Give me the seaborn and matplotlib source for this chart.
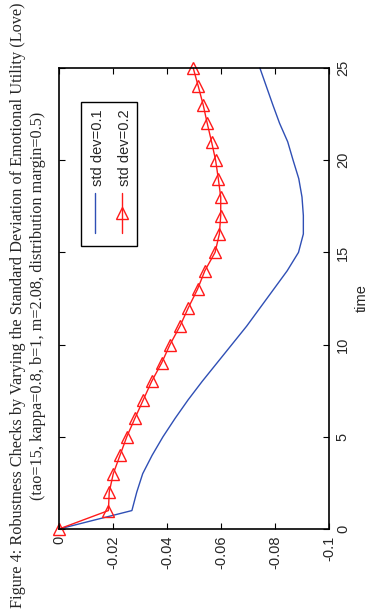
import numpy as np
import pandas as pd
import matplotlib
matplotlib.use("Agg")
import matplotlib.pyplot as plt
import seaborn as sns
from matplotlib.patches import Rectangle

# ---- data ----
time = list(range(0, 26))
std01 = [0.0, -0.027, -0.0288, -0.031, -0.0345, -0.0385, -0.043, -0.0478, -0.053,
         -0.0585, -0.064, -0.0695, -0.0745, -0.0795, -0.0845, -0.0887, -0.0905,
         -0.0905, -0.0900, -0.0888, -0.0867, -0.0847, -0.0817, -0.0792, -0.0768, -0.0744]
std02 = [0.0, -0.0183, -0.0186, -0.0201, -0.0226, -0.0251, -0.0281, -0.0312, -0.0343,
         -0.038, -0.0411, -0.0448, -0.0479, -0.0513, -0.054, -0.0578, -0.0594,
         -0.0599, -0.0599, -0.059, -0.058, -0.0565, -0.0549, -0.0534, -0.0516, -0.0497]
series_labels = ["std dev=0.1", "std dev=0.2"]
value_ticks = [0, -0.02, -0.04, -0.06, -0.08, -0.1]
value_ticklabels = ["0", "-0.02", "-0.04", "-0.06", "-0.08", "-0.1"]
time_ticks = [0, 5, 10, 15, 20, 25]
title1 = "Figure 4: Robustness Checks by Varying the Standard Deviation of Emotional Utility (Love)"
title2 = "(tao=15, kappa=0.8, b=1, m=2.08, distribution margin=0.5)"
time_label = "time"

sns.set_style("white")
plt.rcParams["font.family"] = ["Liberation Sans", "DejaVu Sans"]

BLUE = "#2f4fb5"
RED = "#ff1a1a"

df1 = pd.DataFrame({"time": time, "value": std01})
df2 = pd.DataFrame({"time": time, "value": std02})

W, H = 371, 611
fig = plt.figure(figsize=(W / 100, H / 100), dpi=100)
ax = fig.add_axes([59 / W, 1 - 529 / H, 270 / W, 461 / H])

sns.lineplot(data=df1, x="value", y="time", orient="y", ax=ax, color=BLUE,
             linewidth=1.0, clip_on=False)
sns.lineplot(data=df2, x="value", y="time", orient="y", ax=ax, color=RED,
             linewidth=1.0, marker="^", markersize=9, markerfacecolor="none",
             markeredgecolor=RED, markeredgewidth=1.0, clip_on=False)

ax.set_xlim(0, -0.1)
ax.set_ylim(0, 25)
ax.set_xticks(value_ticks)
ax.set_xticklabels(value_ticklabels)
ax.set_yticks(time_ticks)
ax.set_yticklabels([str(t) for t in time_ticks])
ax.set_xlabel("")
ax.yaxis.tick_right()
ax.yaxis.set_label_position("right")
ax.set_ylabel(time_label, fontsize=10.5, rotation=90, va="center")
ax.yaxis.set_label_coords(1.123, 0.5)
ax.yaxis.label.set_horizontalalignment("center")

ax.tick_params(axis="both", which="both", direction="in", length=4, width=0.8,
               top=True, bottom=True, left=True, right=True, color="black",
               labelsize=10.5, pad=5)
ax.tick_params(axis="x", labelrotation=90)
ax.tick_params(axis="y", labelrotation=90, labelleft=False, labelright=True)
for lab in ax.get_yticklabels():
    lab.set_verticalalignment("center")
for sp in ax.spines.values():
    sp.set_visible(True)
    sp.set_color("black")
    sp.set_linewidth(1.2)

# ---- rotated legend (manual) ----
def ax_x(px):
    return (px - 59) / 270
def ax_y(py):
    return (529 - py) / 461

x0, x1 = ax_x(80.7), ax_x(137.3)
y0, y1 = ax_y(245.7), ax_y(101.7)
ax.add_patch(Rectangle((x0, y0), x1 - x0, y1 - y0, transform=ax.transAxes,
                       facecolor="white", edgecolor="black", linewidth=1.0, zorder=5))
for xp, col, lab, mk in [(95, BLUE, series_labels[0], None), (121.7, RED, series_labels[1], "^")]:
    xa = ax_x(xp)
    ax.plot([xa, xa], [ax_y(233), ax_y(193)], transform=ax.transAxes, color=col,
            linewidth=1.0, zorder=6)
    if mk:
        ax.plot([xa], [ax_y(213)], transform=ax.transAxes, marker=mk, markersize=9,
                markerfacecolor="none", markeredgecolor=col, markeredgewidth=1.0, zorder=6)
    ax.text(ax_x(xp + 3), ax_y(186), lab, transform=ax.transAxes, rotation=90,
            ha="center", va="bottom", fontsize=10.5, zorder=7)

# ---- title (rotated, serif) ----
fig.text(18 / W, 0.5, title1, rotation=90, ha="center", va="center",
         fontsize=11.7, family=["Liberation Serif", "DejaVu Serif"])
fig.text(38 / W, 0.5, title2, rotation=90, ha="center", va="center",
         fontsize=11.7, family=["Liberation Serif", "DejaVu Serif"])

fig.savefig("out.png", dpi=100)
